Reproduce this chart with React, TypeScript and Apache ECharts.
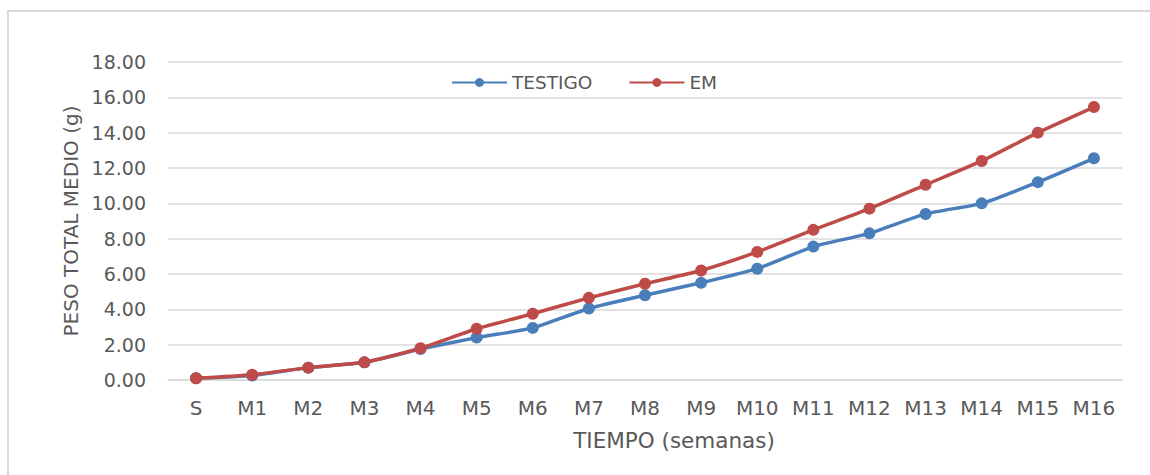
import React, { useEffect, useRef } from "react";
import * as echarts from "echarts";

const categories = ["S", "M1", "M2", "M3", "M4", "M5", "M6", "M7", "M8", "M9", "M10", "M11", "M12", "M13", "M14", "M15", "M16"];
const testigo = [0.1, 0.25, 0.7, 1.0, 1.75, 2.4, 2.95, 4.05, 4.8, 5.5, 6.3, 7.55, 8.3, 9.4, 10.0, 11.2, 12.55];
const em = [0.1, 0.3, 0.7, 1.0, 1.8, 2.9, 3.75, 4.65, 5.45, 6.2, 7.25, 8.5, 9.7, 11.05, 12.4, 14.0, 15.45];
const seriesNames = ["TESTIGO", "EM"];
const xTitle = "TIEMPO (semanas)";
const yTitle = "PESO TOTAL MEDIO (g)";

const FONT = "DejaVu Sans";
const TXT = "#595959";

export default function App() {
  const ref = useRef<HTMLDivElement>(null);
  useEffect(() => {
    if (!ref.current) return;
    const chart = echarts.init(ref.current, null, { renderer: "svg" });
    chart.setOption({
      animation: false,
      backgroundColor: "#ffffff",
      textStyle: { fontFamily: FONT, color: TXT },
      graphic: [
        {
          type: "rect",
          shape: { x: 8, y: 11, width: 1160, height: 500 },
          style: { fill: "none", stroke: "#d9d9d9", lineWidth: 2 },
          silent: true,
        },
      ],
      legend: {
        left: 446,
        top: 68,
        itemWidth: 55,
        itemHeight: 11,
        itemGap: 36,
        textStyle: { fontFamily: FONT, fontSize: 18.5, color: TXT },
        data: seriesNames,
      },
      grid: { left: 168, right: 28, top: 62, bottom: 95, containLabel: false },
      xAxis: {
        type: "category",
        data: categories,
        boundaryGap: true,
        axisLine: { show: true, lineStyle: { color: "#d9d9d9", width: 1.5 } },
        axisTick: { show: false },
        axisLabel: { color: TXT, fontSize: 20, fontFamily: FONT, margin: 18 },
        name: xTitle,
        nameLocation: "middle",
        nameGap: 49,
        nameTextStyle: { color: TXT, fontSize: 21.5, fontFamily: FONT, padding: [0, 0, 0, 58] },
      },
      yAxis: {
        type: "value",
        min: 0,
        max: 18,
        interval: 2,
        axisLine: { show: false },
        axisTick: { show: false },
        axisLabel: {
          color: TXT,
          fontSize: 19,
          fontFamily: FONT,
          margin: 22,
          formatter: (v: number) => v.toFixed(2),
        },
        splitLine: { lineStyle: { color: "#d9d9d9", width: 1.5 } },
        name: yTitle,
        nameLocation: "middle",
        nameGap: 86,
        nameTextStyle: { color: TXT, fontSize: 20, fontFamily: FONT },
      },
      series: [
        {
          name: seriesNames[0],
          type: "line",
          data: testigo,
          smooth: 0.2,
          symbol: "circle",
          symbolSize: 12,
          itemStyle: { color: "#4a7ebb" },
          lineStyle: { color: "#4a7ebb", width: 3.5 },
        },
        {
          name: seriesNames[1],
          type: "line",
          data: em,
          smooth: 0.2,
          symbol: "circle",
          symbolSize: 12,
          itemStyle: { color: "#be4b48" },
          lineStyle: { color: "#be4b48", width: 3.5 },
        },
      ],
    });
    return () => chart.dispose();
  }, []);
  return (
    <div
      ref={ref}
      style={{ position: "fixed", left: 0, top: 0, width: 1150, height: 475 }}
    />
  );
}
